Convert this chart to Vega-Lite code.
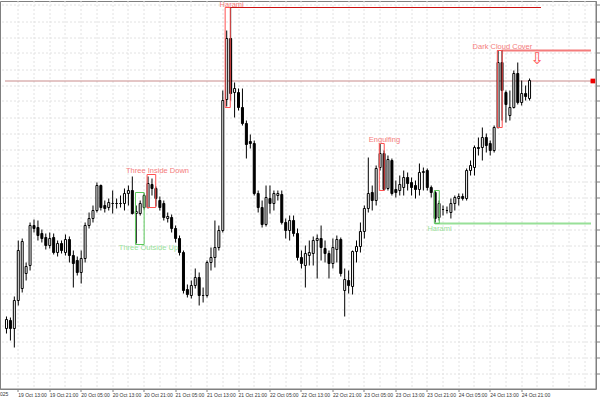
{
  "$schema": "https://vega.github.io/schema/vega-lite/v6.json",
  "width": 596,
  "height": 388,
  "autosize": {"type": "none"},
  "padding": {"left": 0, "top": 1, "right": 4, "bottom": 11},
  "background": "white",
  "config": {
    "view": {"stroke": "#808080", "strokeWidth": 1},
    "axis": {"translate": 0}
  },
  "datasets": {
    "candles": [
      {"i":0,"o":61,"h":73,"l":56,"c":70},{"i":1,"o":69,"h":72,"l":49,"c":61},{"i":2,"o":61,"h":93,"l":42,"c":89},{"i":3,"o":89,"h":149,"l":84,"c":139},
      {"i":4,"o":101,"h":151,"l":97,"c":148},{"i":5,"o":116,"h":127,"l":109,"c":123},{"i":6,"o":124,"h":167,"l":119,"c":164},{"i":7,"o":164,"h":170,"l":157,"c":161},
      {"i":8,"o":162,"h":169,"l":149,"c":154},{"i":9,"o":156,"h":160,"l":147,"c":151},{"i":10,"o":152,"h":156,"l":140,"c":144},{"i":11,"o":144,"h":157,"l":141,"c":151},
      {"i":12,"o":152,"h":156,"l":135,"c":137},{"i":13,"o":137,"h":149,"l":133,"c":146},{"i":14,"o":146,"h":149,"l":136,"c":139},{"i":15,"o":137,"h":155,"l":134,"c":150},
      {"i":16,"o":150,"h":153,"l":127,"c":134},{"i":17,"o":134,"h":139,"l":102,"c":126},{"i":18,"o":129,"h":133,"l":114,"c":117},{"i":19,"o":117,"h":139,"l":106,"c":131},
      {"i":20,"o":131,"h":167,"l":127,"c":164},{"i":21,"o":164,"h":177,"l":161,"c":171},{"i":22,"o":171,"h":184,"l":167,"c":179},{"i":23,"o":179,"h":207,"l":177,"c":204},
      {"i":24,"o":204,"h":205,"l":179,"c":182},{"i":25,"o":184,"h":189,"l":177,"c":181},{"i":26,"o":182,"h":191,"l":179,"c":187},{"i":27,"o":186,"h":199,"l":176,"c":186},
      {"i":28,"o":186,"h":191,"l":181,"c":186},{"i":29,"o":186,"h":194,"l":182,"c":186},{"i":30,"o":186,"h":201,"l":179,"c":196},{"i":31,"o":196,"h":204,"l":184,"c":199},
      {"i":32,"o":199,"h":213,"l":175,"c":176},{"i":33,"o":176,"h":184,"l":146,"c":178},{"i":34,"o":176,"h":189,"l":174,"c":186},{"i":35,"o":182,"h":196,"l":180,"c":194},
      {"i":36,"o":182,"h":213,"l":181,"c":206},{"i":37,"o":205,"h":211,"l":194,"c":201},{"i":38,"o":201,"h":203,"l":183,"c":191},{"i":39,"o":189,"h":193,"l":179,"c":182},
      {"i":40,"o":186,"h":189,"l":169,"c":172},{"i":41,"o":171,"h":177,"l":167,"c":173},{"i":42,"o":172,"h":175,"l":157,"c":161},{"i":43,"o":161,"h":164,"l":147,"c":151},
      {"i":44,"o":151,"h":154,"l":134,"c":137},{"i":45,"o":137,"h":139,"l":96,"c":99},{"i":46,"o":100,"h":105,"l":92,"c":95},{"i":47,"o":94,"h":109,"l":91,"c":104},
      {"i":48,"o":104,"h":121,"l":101,"c":112},{"i":49,"o":112,"h":117,"l":84,"c":94},{"i":50,"o":94,"h":102,"l":87,"c":94},{"i":51,"o":94,"h":129,"l":92,"c":127},
      {"i":52,"o":127,"h":142,"l":119,"c":132},{"i":53,"o":132,"h":169,"l":122,"c":142},{"i":54,"o":142,"h":164,"l":139,"c":159},{"i":55,"o":159,"h":299,"l":157,"c":289},
      {"i":56,"o":290,"h":359,"l":283,"c":351},{"i":57,"o":351,"h":382,"l":289,"c":296},{"i":58,"o":297,"h":307,"l":272,"c":301},{"i":59,"o":297,"h":301,"l":279,"c":282},
      {"i":60,"o":282,"h":301,"l":264,"c":266},{"i":61,"o":266,"h":269,"l":231,"c":245},{"i":62,"o":248,"h":255,"l":241,"c":246},{"i":63,"o":246,"h":249,"l":194,"c":196},
      {"i":64,"o":196,"h":199,"l":177,"c":182},{"i":65,"o":182,"h":189,"l":162,"c":165},{"i":66,"o":165,"h":204,"l":163,"c":192},{"i":67,"o":191,"h":204,"l":176,"c":186},
      {"i":68,"o":186,"h":199,"l":179,"c":196},{"i":69,"o":194,"h":199,"l":189,"c":196},{"i":70,"o":195,"h":199,"l":165,"c":167},{"i":71,"o":167,"h":171,"l":151,"c":159},
      {"i":72,"o":159,"h":174,"l":149,"c":169},{"i":73,"o":169,"h":174,"l":153,"c":156},{"i":74,"o":156,"h":161,"l":129,"c":132},{"i":75,"o":132,"h":139,"l":121,"c":126},
      {"i":76,"o":124,"h":144,"l":102,"c":136},{"i":77,"o":134,"h":149,"l":124,"c":137},{"i":78,"o":136,"h":153,"l":124,"c":149},{"i":79,"o":149,"h":155,"l":111,"c":151},
      {"i":80,"o":151,"h":164,"l":129,"c":142},{"i":81,"o":141,"h":149,"l":127,"c":136},{"i":82,"o":136,"h":139,"l":111,"c":126},{"i":83,"o":126,"h":151,"l":121,"c":142},
      {"i":84,"o":140,"h":154,"l":127,"c":150},{"i":85,"o":150,"h":152,"l":113,"c":116},{"i":86,"o":99,"h":121,"l":73,"c":110},{"i":87,"o":109,"h":119,"l":96,"c":104},
      {"i":88,"o":103,"h":139,"l":95,"c":138},{"i":89,"o":138,"h":149,"l":127,"c":143},{"i":90,"o":143,"h":167,"l":137,"c":158},{"i":91,"o":158,"h":184,"l":151,"c":181},
      {"i":92,"o":181,"h":232,"l":177,"c":196},{"i":93,"o":197,"h":204,"l":179,"c":189},{"i":94,"o":189,"h":224,"l":184,"c":221},{"i":95,"o":222,"h":246,"l":219,"c":236},
      {"i":96,"o":236,"h":239,"l":199,"c":200},{"i":97,"o":201,"h":234,"l":199,"c":230},{"i":98,"o":229,"h":231,"l":194,"c":196},{"i":99,"o":200,"h":209,"l":192,"c":197},
      {"i":100,"o":199,"h":214,"l":194,"c":205},{"i":101,"o":202,"h":219,"l":194,"c":212},{"i":102,"o":212,"h":217,"l":199,"c":206},{"i":103,"o":207,"h":212,"l":194,"c":202},
      {"i":104,"o":204,"h":209,"l":191,"c":200},{"i":105,"o":200,"h":226,"l":194,"c":217},{"i":106,"o":217,"h":222,"l":199,"c":218},{"i":107,"o":219,"h":221,"l":199,"c":202},
      {"i":108,"o":202,"h":204,"l":192,"c":197},{"i":109,"o":197,"h":199,"l":167,"c":171},{"i":110,"o":172,"h":189,"l":169,"c":186},{"i":111,"o":180,"h":184,"l":174,"c":180},
      {"i":112,"o":179,"h":183,"l":176,"c":179},{"i":113,"o":177,"h":191,"l":171,"c":186},{"i":114,"o":186,"h":194,"l":179,"c":192},{"i":115,"o":191,"h":196,"l":184,"c":193},
      {"i":116,"o":193,"h":196,"l":189,"c":191},{"i":117,"o":191,"h":221,"l":189,"c":219},{"i":118,"o":219,"h":229,"l":214,"c":224},{"i":119,"o":222,"h":244,"l":214,"c":242},
      {"i":120,"o":242,"h":252,"l":234,"c":241},{"i":121,"o":242,"h":262,"l":229,"c":252},{"i":122,"o":252,"h":256,"l":237,"c":244},{"i":123,"o":246,"h":249,"l":234,"c":239},
      {"i":124,"o":239,"h":264,"l":237,"c":262},{"i":125,"o":262,"h":339,"l":261,"c":327},{"i":126,"o":327,"h":339,"l":269,"c":299},{"i":127,"o":297,"h":299,"l":267,"c":285},
      {"i":128,"o":274,"h":299,"l":269,"c":282},{"i":129,"o":282,"h":319,"l":281,"c":316},{"i":130,"o":316,"h":327,"l":285,"c":287},{"i":131,"o":287,"h":309,"l":284,"c":296},
      {"i":132,"o":296,"h":304,"l":289,"c":293},{"i":133,"o":291,"h":311,"l":289,"c":309}
    ],
    "boxes": [
      {"name":"Harami","kind":"bearish","i":55.6,"i2":56.9,"p":382,"p2":282},
      {"name":"Three Outside Up","kind":"bullish","i":32.8,"i2":35.0,"p":197,"p2":145},
      {"name":"Three Inside Down","kind":"bearish","i":35.75,"i2":37.95,"p":215,"p2":182},
      {"name":"Engulfing","kind":"bearish","i":94.8,"i2":96.05,"p":246,"p2":199},
      {"name":"Harami","kind":"bullish","i":108.8,"i2":110.05,"p":199,"p2":166},
      {"name":"Dark Cloud Cover","kind":"bearish","i":124.8,"i2":126.05,"p":339,"p2":262}
    ],
    "levels": [
      {"kind":"high","i":56.6,"i2":135.9,"p":382},
      {"kind":"bid","i":-0.375,"i2":148.625,"p":308.5},
      {"kind":"resistance","i":125.9,"i2":148.625,"p":339},
      {"kind":"support","i":108.9,"i2":148.625,"p":166}
    ],
    "notes": [
      {"text":"Harami","kind":"bearish","i":57.25,"p":385},
      {"text":"Three Inside Down","kind":"bearish","i":38.4,"p":218.5},
      {"text":"Three Outside Up","kind":"bullish","i":36.1,"p":141.5},
      {"text":"Engulfing","kind":"bearish","i":96.1,"p":249.5},
      {"text":"Harami","kind":"bullish","i":110.1,"p":160.5},
      {"text":"Dark Cloud Cover","kind":"bearish","i":126.1,"p":342.5}
    ],
    "extras": [
      {"text":"⇩","kind":"arrow","i":134.9,"p":331},
      {"text":"19 Oct 2025","kind":"date","i":0.45,"p":-4.5}
    ],
    "marker": [{"i":149.1,"p":308.5}]
  },
  "layer": [
    {
      "data": {"name": "levels"},
      "transform": [{"filter": "datum.kind == 'bid'"}],
      "mark": {"type": "rule", "color": "#c98c8c", "strokeWidth": 1},
      "encoding": {
        "x": {"field": "i", "type": "quantitative", "title": null,
          "scale": {"domain": [-0.375, 148.625], "nice": false, "zero": false},
          "axis": {
            "orient": "bottom",
            "values": [3,7,11,15,19,23,27,31,35,39,43,47,51,55,59,63,67,71,75,79,83,87,91,95,99,103,107,111,115,119,123,127,131,135,139,143,147],
            "tickCount": 500,
            "labelExpr": "(datum.value - 3) % 8 == 0 && datum.value <= 131 ? utcFormat(utc(2025, 9, 19, 10) + datum.value * 3600000, '%d %b %H:%M') : ''",
            "labelAlign": "left",
            "labelFont": "Liberation Sans",
            "labelFontSize": 5,
            "labelColor": "#333333",
            "labelPadding": 1,
            "labelOverlap": false,
            "labelBound": false,
            "labelFlush": false,
            "tickSize": 3,
            "tickColor": "#808080",
            "tickOpacity": {"condition": {"test": "(datum.value - 3) % 8 == 0 && datum.value <= 131", "value": 1}, "value": 0},
            "domain": true,
            "domainColor": "#808080",
            "grid": true,
            "gridColor": "#e2e2e2",
            "gridDash": [2, 2],
            "gridWidth": 1
          }
        },
        "x2": {"field": "i2"},
        "y": {"field": "p", "type": "quantitative", "title": null,
          "scale": {"domain": [0.5, 388.5], "nice": false, "zero": false},
          "axis": {
            "orient": "right",
            "values": [16,32,48,64,80,96,112,128,144,160,176,192,208,224,240,256,272,288,304,320,336,352,368,384],
            "tickCount": 500,
            "labels": false,
            "tickSize": 4,
            "tickColor": "#808080",
            "domain": true,
            "domainColor": "#808080",
            "grid": true,
            "gridColor": "#e2e2e2",
            "gridDash": [2, 2],
            "gridWidth": 1
          }
        }
      }
    },
    {
      "data": {"name": "levels"},
      "transform": [{"filter": "datum.kind == 'high'"}],
      "mark": {"type": "rule", "color": "#cc1111", "strokeWidth": 1},
      "encoding": {
        "x": {"field": "i", "type": "quantitative", "title": null, "scale": {"domain": [-0.375, 148.625], "nice": false, "zero": false}},
        "x2": {"field": "i2"},
        "y": {"field": "p", "type": "quantitative", "title": null, "scale": {"domain": [0.5, 388.5], "nice": false, "zero": false}}
      }
    },
    {
      "data": {"name": "levels"},
      "transform": [{"filter": "datum.kind == 'resistance' || datum.kind == 'support'"}],
      "mark": {"type": "rule", "strokeWidth": 2},
      "encoding": {
        "x": {"field": "i", "type": "quantitative", "title": null, "scale": {"domain": [-0.375, 148.625], "nice": false, "zero": false}},
        "x2": {"field": "i2"},
        "y": {"field": "p", "type": "quantitative", "title": null, "scale": {"domain": [0.5, 388.5], "nice": false, "zero": false}},
        "color": {"field": "kind", "type": "nominal", "legend": null,
          "scale": {"domain": ["resistance", "support"], "range": ["#f47c7c", "#98e098"]}}
      }
    },
    {
      "data": {"name": "candles"},
      "mark": {"type": "rule", "color": "#000000", "strokeWidth": 1},
      "encoding": {
        "x": {"field": "i", "type": "quantitative", "title": null, "scale": {"domain": [-0.375, 148.625], "nice": false, "zero": false}},
        "y": {"field": "l", "type": "quantitative", "title": null, "scale": {"domain": [0.5, 388.5], "nice": false, "zero": false}},
        "y2": {"field": "h"}
      }
    },
    {
      "data": {"name": "candles"},
      "mark": {"type": "bar", "width": 2, "stroke": "#000000", "strokeWidth": 1},
      "encoding": {
        "x": {"field": "i", "type": "quantitative", "title": null, "scale": {"domain": [-0.375, 148.625], "nice": false, "zero": false}},
        "y": {"field": "o", "type": "quantitative", "title": null, "scale": {"domain": [0.5, 388.5], "nice": false, "zero": false}},
        "y2": {"field": "c"},
        "fill": {"condition": {"test": "datum.c >= datum.o", "value": "#ffffff"}, "value": "#000000"}
      }
    },
    {
      "data": {"name": "boxes"},
      "mark": {"type": "rect", "fill": null, "fillOpacity": 0, "strokeWidth": 1},
      "encoding": {
        "x": {"field": "i", "type": "quantitative", "title": null, "scale": {"domain": [-0.375, 148.625], "nice": false, "zero": false}},
        "x2": {"field": "i2"},
        "y": {"field": "p", "type": "quantitative", "title": null, "scale": {"domain": [0.5, 388.5], "nice": false, "zero": false}},
        "y2": {"field": "p2"},
        "stroke": {"field": "kind", "type": "nominal", "legend": null,
          "scale": {"domain": ["bearish", "bullish"], "range": ["#ff5050", "#5cc85c"]}}
      }
    },
    {
      "data": {"name": "notes"},
      "mark": {"type": "text", "font": "Liberation Sans", "fontSize": 7.5, "align": "center", "baseline": "middle"},
      "encoding": {
        "x": {"field": "i", "type": "quantitative", "title": null, "scale": {"domain": [-0.375, 148.625], "nice": false, "zero": false}},
        "y": {"field": "p", "type": "quantitative", "title": null, "scale": {"domain": [0.5, 388.5], "nice": false, "zero": false}},
        "text": {"field": "text"},
        "color": {"field": "kind", "type": "nominal", "legend": null,
          "scale": {"domain": ["bearish", "bullish"], "range": ["#ff4a4a", "#66d066"]}}
      }
    },
    {
      "data": {"name": "extras"},
      "transform": [{"filter": "datum.kind == 'arrow'"}],
      "mark": {"type": "text", "font": "DejaVu Sans", "fontSize": 16, "align": "center", "baseline": "middle", "color": "#ff5050"},
      "encoding": {
        "x": {"field": "i", "type": "quantitative", "title": null, "scale": {"domain": [-0.375, 148.625], "nice": false, "zero": false}},
        "y": {"field": "p", "type": "quantitative", "title": null, "scale": {"domain": [0.5, 388.5], "nice": false, "zero": false}},
        "text": {"field": "text"}
      }
    },
    {
      "data": {"name": "extras"},
      "transform": [{"filter": "datum.kind == 'date'"}],
      "mark": {"type": "text", "font": "Liberation Sans", "fontSize": 5, "align": "right", "baseline": "middle", "color": "#333333"},
      "encoding": {
        "x": {"field": "i", "type": "quantitative", "title": null, "scale": {"domain": [-0.375, 148.625], "nice": false, "zero": false}},
        "y": {"field": "p", "type": "quantitative", "title": null, "scale": {"domain": [0.5, 388.5], "nice": false, "zero": false}},
        "text": {"field": "text"}
      }
    },
    {
      "data": {"name": "marker"},
      "mark": {"type": "square", "size": 22, "filled": true, "color": "#ee0000", "opacity": 1},
      "encoding": {
        "x": {"field": "i", "type": "quantitative", "title": null, "scale": {"domain": [-0.375, 148.625], "nice": false, "zero": false}},
        "y": {"field": "p", "type": "quantitative", "title": null, "scale": {"domain": [0.5, 388.5], "nice": false, "zero": false}}
      }
    }
  ]
}
